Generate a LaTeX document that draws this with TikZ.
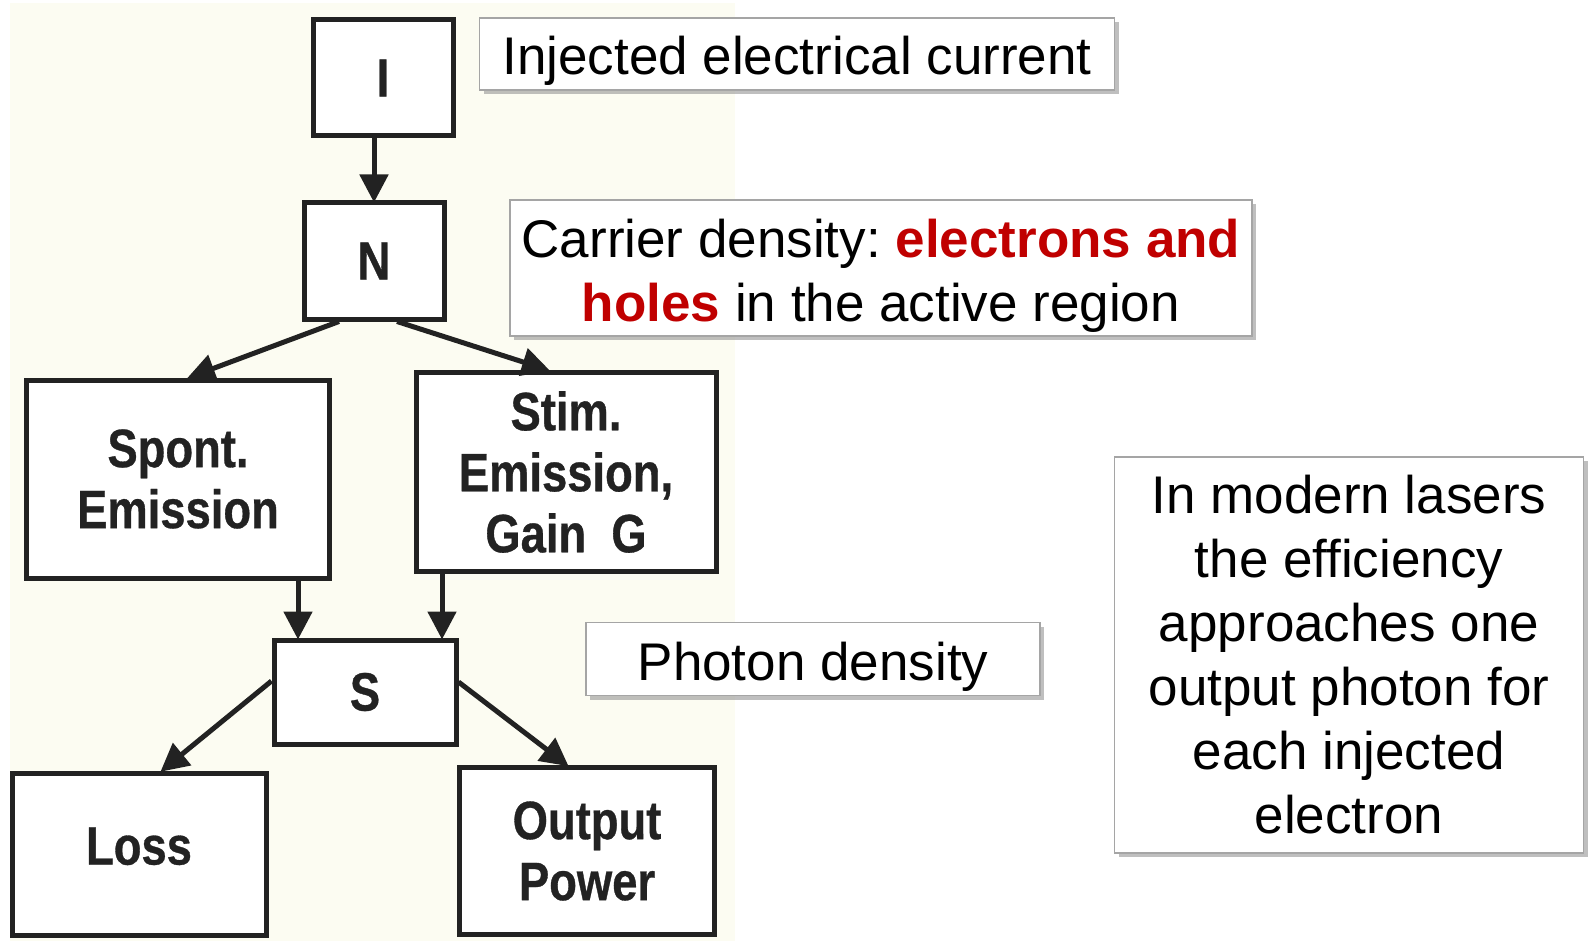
\documentclass[tikz,border=0pt]{standalone}
\usepackage{fontspec}
\setmainfont{Liberation Sans}
\newfontfamily\scanfont[FakeStretch=0.84,FakeBold=0.6]{Liberation Sans Bold}
\usetikzlibrary{arrows.meta,shadows}
\definecolor{beige}{RGB}{252,252,242}
\definecolor{inkc}{RGB}{34,34,34}
\definecolor{pptred}{RGB}{192,0,0}
\definecolor{bordergray}{RGB}{165,165,165}
\newcommand{\topstrut}{\rule{0pt}{53pt}}
\frenchspacing
\tikzset{
  flowbox/.style={draw=inkc, line width=5pt, fill=white, inner sep=0pt,
    align=center, text=inkc, font=\scanfont\fontsize{54}{61}\selectfont},
  notebox/.style={draw=bordergray, line width=1.4pt, fill=white, inner sep=0pt,
    align=center, font=\fontsize{53}{64}\selectfont,
    drop shadow={shadow xshift=4pt, shadow yshift=-4pt, fill=black!45, opacity=0.55}},
  flowarrow/.style={draw=inkc, line width=5pt,
    -{Triangle[length=28pt,width=28pt]}, shorten >=-2pt},
}
\begin{document}
\begin{tikzpicture}[x=1pt,y=-1pt]
\useasboundingbox (0,0) rectangle (1589,941);
\fill[white] (0,0) rectangle (1589,941);
\fill[beige] (10,3) rectangle (735,941);

% flowchart boxes
\node[flowbox, minimum width=140pt, minimum height=116pt] (I) at (383,78) {I};
\node[flowbox, minimum width=140pt, minimum height=116pt] (N) at (374,261) {N};
\node[flowbox, minimum width=303pt, minimum height=198pt] (spont) at (178,479) {Spont.\\Emission};
\node[flowbox, minimum width=300pt, minimum height=199pt] (stim) at (566,472) {Stim.\\Emission,\\Gain\ \ G};
\node[flowbox, minimum width=182pt, minimum height=104pt] (S) at (365,692) {S};
\node[flowbox, minimum width=254pt, minimum height=162pt] (loss) at (139,854) {Loss\rule[-16pt]{0pt}{1pt}};
\node[flowbox, minimum width=255pt, minimum height=167pt] (out) at (587,851) {Output\\Power};

% connectors
\draw[flowarrow] (N.north |- I.south) -- (N.north);
\draw[flowarrow] ([xshift=-35pt]N.south) -- ([xshift=11pt]spont.north);
\draw[flowarrow] ([xshift=23pt]N.south) -- ([xshift=-18pt]stim.north);
\draw[flowarrow] ([xshift=120pt]spont.south) -- ([xshift=-67pt]S.north);
\draw[flowarrow] ([xshift=-124pt]stim.south) -- ([xshift=77pt]S.north);
\draw[flowarrow] ([yshift=11pt]S.west) -- ([xshift=23pt]loss.north);
\draw[flowarrow] ([yshift=10pt]S.east) -- ([xshift=-20pt]out.north);

% annotation boxes
\node[notebox, minimum width=635pt, minimum height=72pt] (inj) at (797,54) {\topstrut Injected electrical current};
\node[notebox, minimum width=742pt, minimum height=136pt] (carrier) at (881,268)
  {\topstrut Carrier density: \textbf{\color{pptred}electrons and}\\\textbf{\color{pptred}holes} in the active region};
\node[notebox, minimum width=454pt, minimum height=73pt] (photon) at (813,659) {\topstrut Photon density};
\node[notebox, minimum width=469pt, minimum height=396pt] (eff) at (1349,655)
  {In modern lasers\\the efficiency\\approaches one\\output photon for\\each injected\\electron};
\end{tikzpicture}
\end{document}
